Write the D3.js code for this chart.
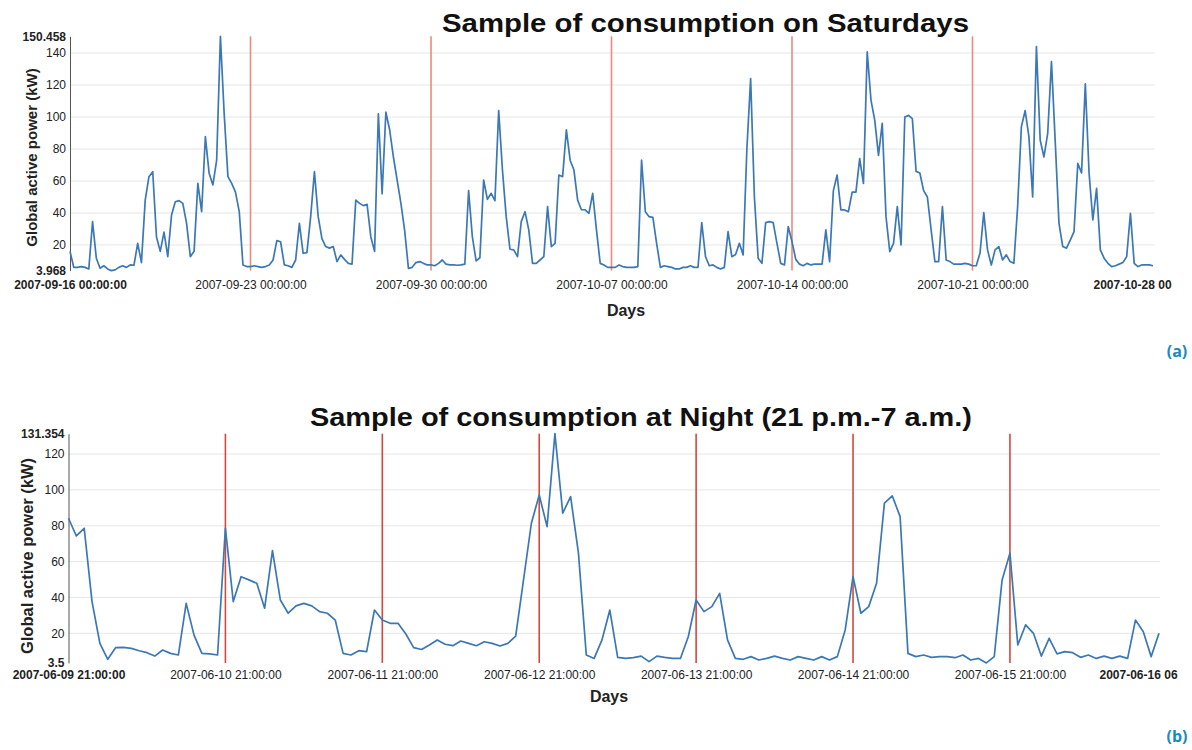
<!DOCTYPE html>
<html><head><meta charset="utf-8">
<script src="https://cdnjs.cloudflare.com/ajax/libs/d3/7.8.5/d3.min.js"></script>
<style>
body{margin:0;background:#fff;}
svg{display:block;font-family:"Liberation Sans",Arial,Helvetica,sans-serif;}
</style>
</head><body>
<svg id="chart" width="1192" height="750"></svg>
<script>
// ---------- DATA: (a) Saturdays, half-hourly, one block per week ----------
const satWeek1 = [16, 6, 6, 6.5, 6, 5, 34.6, 11.7, 5.4, 7, 5, 3.968, 4.4, 6, 7, 6, 7.5, 7.3, 21, 9,
  48, 62.7, 65.8, 25, 16, 28, 12.7, 38.7, 47, 47.7, 46, 33.5, 12.7, 16, 58.5, 40.8, 87.7, 64.8, 57.5, 73,
  150.458, 102, 62.7, 58.5, 53, 41, 7.5, 6.5];
const satWeek2 = [6.5, 7, 6.5, 6, 6.5, 7.5, 10.6, 22.7, 22, 7.5, 7, 6, 10.6, 33.5, 14.8, 15.2, 37.7, 65.8, 37.7, 24,
  19, 18, 19, 9.6, 13.8, 11, 8.5, 8, 48, 46, 44.6, 45.4, 25, 16, 102, 52, 103, 92, 75, 60.6,
  46, 29, 5.4, 6, 9, 9.6, 8.5, 7.5];
const satWeek3 = [7.5, 7, 8.5, 10.6, 8, 7.5, 7.5, 7.3, 7.5, 8, 54, 25, 10, 12, 60.6, 48.5, 52.3, 47.7, 104, 66.9,
  37.7, 17.3, 16.9, 12.7, 34.6, 40.8, 29.4, 8.5, 8.5, 10.6, 12.7, 44, 19, 21, 63.7, 62.7, 92, 73, 67, 48,
  42, 42, 39.8, 52.3, 29.4, 8.5, 7.5, 6];
const satWeek4 = [6, 6, 7.5, 6.5, 6, 6, 6, 6.5, 73, 40.8, 37.7, 37.3, 21, 6, 7, 6.5, 6, 5, 5, 6,
  6, 7, 6, 6, 34, 12.7, 7, 7.5, 6, 5, 6, 28.3, 12.7, 14, 21, 13.8, 80, 124, 50, 11.7,
  8.5, 34, 34.6, 34, 21, 8.5, 7.5, 31.5];
const satWeek5 = [22, 11, 8, 7, 8.5, 7.5, 8, 8, 8, 29.4, 9.6, 54, 63.7, 41.9, 41.9, 40.8, 53, 53, 74, 58.5,
  140.8, 110.6, 98, 76, 96, 37.7, 15.8, 21, 44, 20, 100, 101, 99, 66, 65, 54, 50, 29.4, 9.6, 9.6,
  44, 10.6, 9.6, 8, 8, 8, 8.5, 8];
const satWeek6 = [7, 7, 15, 40.2, 16.9, 7.5, 16.9, 19, 10.6, 13.8, 9.6, 8.5, 44, 94, 104, 87.7, 50, 144, 85.6, 75,
  89.8, 134.6, 84.6, 33.5, 19, 18, 23, 28.3, 71, 65, 120.8, 65, 35.6, 55.4, 16.9, 11.7, 8.5, 6.5, 7, 8,
  9, 12.7, 39.8, 8.5, 6.5, 7.5, 7.5, 7.5, 7];
const saturdayValues = [].concat(satWeek1, satWeek2, satWeek3, satWeek4, satWeek5, satWeek6);
const saturdayTickIndex = [0, 48, 96, 144, 192, 240, 288];
// last label is shown as it appears (cut) in the reference figure
const saturdayTickLabels = ["2007-09-16 00:00:00", "2007-09-23 00:00:00", "2007-09-30 00:00:00",
  "2007-10-07 00:00:00", "2007-10-14 00:00:00", "2007-10-21 00:00:00", "2007-10-28 00"];
const saturdayBreaks = [48, 96, 144, 192, 240];
const saturdayYTicks = [20, 40, 60, 80, 100, 120, 140];

// ---------- DATA: (b) Nights 21:00-07:00, half-hourly ----------
const nightValues = [
  84.2, 74.3, 78.6, 37.7, 14.4, 5.5, 12, 12.2, 11.6, 10.3, 9.2, 7.3, 10.7, 8.8, 7.9, 36.7, 19, 8.8, 8.5, 7.9,
  78.6, 37.7, 51.6, 49.8, 47.9, 34, 66.1, 38.6, 31.2, 35.3, 36.7, 35.3, 32.1, 31.2, 27.4, 8.8, 7.9, 10.3, 9.8, 33,
  27.4, 25.6, 25.6, 19.6, 12, 11, 13.5, 16.3, 13.9, 13.1, 15.7, 14.4, 13.1, 15.3, 14.4, 12.9, 14.4, 18.5, 49.8, 81.4,
  97.2, 79.5, 131.354, 87, 96.3, 64.7, 7.9, 6, 16.3, 33, 6.6, 6, 6.4, 7.3, 4.2, 7.3, 6.6, 6, 6, 18.1,
  38.6, 32.1, 34.9, 42.3, 16.3, 6, 5.5, 7, 5.1, 6, 7.3, 6, 5.1, 7, 6, 5.1, 7, 5.1, 7, 21.9,
  51.6, 31.2, 34.9, 47.9, 92.6, 96.7, 85.1, 8.8, 7, 7.9, 6.6, 7, 7, 6.4, 7.9, 5.1, 6, 3.5, 7, 49.8,
  64.7, 13.5, 24.7, 20, 7.3, 17.2, 8.5, 9.8, 9.2, 6.6, 7.9, 6, 7.3, 6, 7.3, 6, 27.4, 20.9, 7, 20];
const nightTickIndex = [0, 20, 40, 60, 80, 100, 120, 139];
const nightTickLabels = ["2007-06-09 21:00:00", "2007-06-10 21:00:00", "2007-06-11 21:00:00",
  "2007-06-12 21:00:00", "2007-06-13 21:00:00", "2007-06-14 21:00:00", "2007-06-15 21:00:00",
  "2007-06-16 06"];
const nightBreaks = [20, 40, 60, 80, 100, 120];
const nightYTicks = [20, 40, 60, 80, 100, 120];

// ---------- DRAWING ----------
const svg = d3.select("#chart");
svg.append("rect").attr("width", 1192).attr("height", 750).attr("fill", "#fff");

function drawChart(o) {
  const g = svg.append("g");
  const x = d3.scaleLinear().domain([0, o.values.length - 1]).range([o.x0, o.x1]);
  const ext = d3.extent(o.values);
  const y = d3.scaleLinear().domain(ext).range([o.yBottom, o.yTop]);

  // grid
  g.append("g").selectAll("line").data(o.yTicks).join("line")
    .attr("x1", o.x0).attr("x2", o.gridRight)
    .attr("y1", d => y(d)).attr("y2", d => y(d))
    .attr("stroke", "#e6e6e6").attr("stroke-width", 1);

  // red day separators
  g.append("g").selectAll("line").data(o.breaks).join("line")
    .attr("x1", d => x(d)).attr("x2", d => x(d))
    .attr("y1", o.yTop).attr("y2", o.yBottom)
    .attr("stroke", o.breakColor).attr("stroke-width", o.breakWidth);

  // y axis
  const yAxisG = g.append("g").attr("transform", `translate(${o.x0},0)`)
    .call(d3.axisLeft(y).tickValues([ext[0], ...o.yTicks, ext[1]])
      .tickSize(0).tickPadding(4).tickFormat(d => String(d)));
  yAxisG.select(".domain").attr("stroke", "#555").attr("stroke-width", 1);
  yAxisG.selectAll("text").attr("font-size", 12).attr("fill", "#222")
    .attr("font-family", "'Liberation Sans', Arial, sans-serif")
    .attr("font-weight", d => (d === ext[0] || d === ext[1]) ? "bold" : "normal");

  // x axis (labels only)
  const last = o.tickIndex.length - 1;
  const xAxisG = g.append("g").attr("transform", `translate(0,${o.tickBaseline})`)
    .call(d3.axisBottom(x).tickValues(o.tickIndex).tickSize(0).tickPadding(0)
      .tickFormat((d, i) => o.tickLabels[i]));
  xAxisG.select(".domain").remove();
  xAxisG.selectAll("text").attr("y", 0).attr("dy", 0)
    .attr("font-size", 12).attr("fill", "#222")
    .attr("font-family", "'Liberation Sans', Arial, sans-serif")
    .attr("font-weight", (d, i) => (i === 0 || i === last) ? "bold" : "normal")
    .attr("text-anchor", (d, i) => i === last ? "start" : "middle")
    .attr("x", (d, i) => i === last ? -60 : 0);

  // line
  g.append("path").datum(o.values)
    .attr("fill", "none").attr("stroke", "#3b78b4").attr("stroke-width", 1.7)
    .attr("stroke-linejoin", "round")
    .attr("d", d3.line().x((d, i) => x(i)).y(d => y(d)));

  // title
  g.append("text").attr("x", o.titleX).attr("y", o.titleY)
    .attr("font-size", 25).attr("font-weight", "bold").attr("fill", "#111")
    .attr("textLength", o.titleLen).attr("lengthAdjust", "spacingAndGlyphs")
    .text(o.title);

  // y title
  g.append("text").attr("transform", `translate(${o.yTitleX},${o.yTitleY}) rotate(-90)`)
    .attr("text-anchor", "middle").attr("font-size", o.yTitleSize).attr("font-weight", "bold")
    .attr("fill", "#222").text("Global active power (kW)");

  // x title
  g.append("text").attr("x", o.xTitleX).attr("y", o.xTitleY).attr("text-anchor", "middle")
    .attr("font-size", 16).attr("font-weight", "bold").attr("fill", "#222").text("Days");

  svg.append("text").attr("x", 1177).attr("y", o.panelY).attr("text-anchor", "middle")
    .attr("font-family", "'Open Sans', sans-serif").attr("font-size", 16).attr("font-weight", "bold")
    .attr("fill", "#1b89b9").text(o.panel);
}

drawChart({
  values: saturdayValues, tickIndex: saturdayTickIndex, tickLabels: saturdayTickLabels,
  breaks: saturdayBreaks, yTicks: saturdayYTicks,
  x0: 70, x1: 1153, yTop: 36.3, yBottom: 270.6, gridRight: 1155, tickBaseline: 289,
  breakColor: "#ec8a7c", breakWidth: 1.6,
  title: "Sample of consumption on Saturdays", titleX: 442, titleY: 32, titleLen: 527,
  yTitleX: 37, yTitleY: 157.5, yTitleSize: 15, xTitleX: 626, xTitleY: 316,
  panel: "(a)", panelY: 357
});

drawChart({
  values: nightValues, tickIndex: nightTickIndex, tickLabels: nightTickLabels,
  breaks: nightBreaks, yTicks: nightYTicks,
  x0: 68.5, x1: 1159, yTop: 433.7, yBottom: 662.9, gridRight: 1160, tickBaseline: 679,
  breakColor: "#d2493c", breakWidth: 1.6,
  title: "Sample of consumption at Night (21 p.m.-7 a.m.)", titleX: 310, titleY: 426, titleLen: 662,
  yTitleX: 33, yTitleY: 556, yTitleSize: 16.5, xTitleX: 609, xTitleY: 702,
  panel: "(b)", panelY: 742
});
</script>
</body></html>
